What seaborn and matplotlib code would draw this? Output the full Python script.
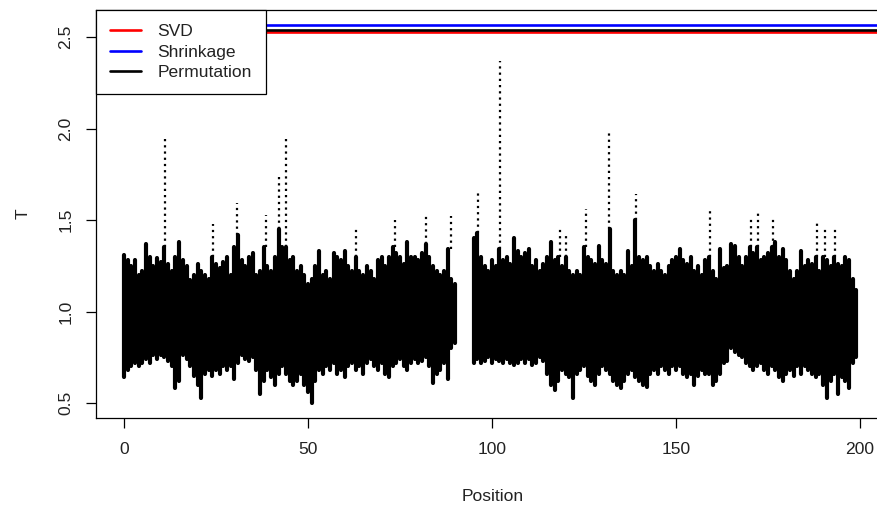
import numpy as np
import pandas as pd
import matplotlib
matplotlib.use("Agg")
import matplotlib.pyplot as plt
import seaborn as sns

# ---------------- data ----------------
pos_left = list(range(0, 91))
pos_right = list(range(95, 200))

hi_left = [1.31, 1.28, 1.25, 1.28, 1.20, 1.22, 1.37, 1.30, 1.25, 1.29,
           1.27, 1.35, 1.26, 1.22, 1.30, 1.38, 1.28, 1.25, 1.17, 1.20,
           1.26, 1.22, 1.20, 1.18, 1.30, 1.26, 1.24, 1.27, 1.30, 1.20,
           1.35, 1.42, 1.28, 1.25, 1.30, 1.32, 1.20, 1.22, 1.35, 1.25,
           1.22, 1.30, 1.45, 1.35, 1.35, 1.28, 1.30, 1.22, 1.25, 1.20,
           1.15, 1.18, 1.25, 1.33, 1.20, 1.22, 1.18, 1.32, 1.30, 1.28,
           1.33, 1.25, 1.22, 1.30, 1.22, 1.20, 1.25, 1.22, 1.18, 1.28,
           1.30, 1.25, 1.30, 1.35, 1.32, 1.30, 1.26, 1.38, 1.30, 1.30,
           1.28, 1.32, 1.37, 1.30, 1.25, 1.22, 1.20, 1.22, 1.34, 1.18,
           1.15]
lo_left = [0.64, 0.68, 0.70, 0.72, 0.70, 0.72, 0.74, 0.72, 0.76, 0.74,
           0.76, 0.75, 0.73, 0.70, 0.58, 0.62, 0.76, 0.74, 0.70, 0.65,
           0.60, 0.53, 0.66, 0.68, 0.65, 0.68, 0.66, 0.70, 0.68, 0.70,
           0.63, 0.72, 0.76, 0.74, 0.73, 0.75, 0.68, 0.55, 0.62, 0.68,
           0.64, 0.60, 0.66, 0.70, 0.66, 0.62, 0.60, 0.62, 0.66, 0.60,
           0.56, 0.50, 0.62, 0.68, 0.66, 0.70, 0.68, 0.72, 0.66, 0.68,
           0.64, 0.70, 0.72, 0.68, 0.70, 0.66, 0.72, 0.74, 0.70, 0.68,
           0.72, 0.66, 0.64, 0.70, 0.72, 0.74, 0.70, 0.68, 0.72, 0.74,
           0.72, 0.73, 0.75, 0.70, 0.61, 0.66, 0.68, 0.72, 0.63, 0.80,
           0.83]
hi_right = [1.40, 1.43, 1.30, 1.25, 1.22, 1.28, 1.25, 1.34, 1.28, 1.30,
            1.26, 1.40, 1.33, 1.30, 1.32, 1.34, 1.25, 1.28, 1.22, 1.26,
            1.30, 1.38, 1.28, 1.30, 1.25, 1.30, 1.22, 1.20, 1.22, 1.20,
            1.35, 1.30, 1.28, 1.26, 1.36, 1.28, 1.26, 1.45, 1.22, 1.20,
            1.22, 1.20, 1.33, 1.25, 1.50, 1.30, 1.28, 1.30, 1.25, 1.22,
            1.26, 1.22, 1.20, 1.25, 1.28, 1.30, 1.34, 1.28, 1.26, 1.30,
            1.22, 1.25, 1.20, 1.28, 1.30, 1.22, 1.18, 1.34, 1.24, 1.25,
            1.37, 1.36, 1.30, 1.25, 1.30, 1.35, 1.32, 1.35, 1.28, 1.30,
            1.32, 1.35, 1.38, 1.30, 1.34, 1.28, 1.22, 1.18, 1.22, 1.33,
            1.25, 1.28, 1.26, 1.30, 1.22, 1.30, 1.28, 1.25, 1.30, 1.26,
            1.25, 1.30, 1.28, 1.18, 1.12]
lo_right = [0.72, 0.74, 0.72, 0.73, 0.75, 0.72, 0.74, 0.73, 0.72, 0.74,
            0.72, 0.71, 0.72, 0.74, 0.72, 0.74, 0.71, 0.72, 0.75, 0.73,
            0.66, 0.60, 0.57, 0.62, 0.68, 0.66, 0.64, 0.53, 0.66, 0.68,
            0.70, 0.65, 0.62, 0.60, 0.66, 0.70, 0.68, 0.66, 0.62, 0.60,
            0.58, 0.62, 0.66, 0.68, 0.64, 0.62, 0.60, 0.59, 0.66, 0.68,
            0.66, 0.70, 0.68, 0.66, 0.70, 0.68, 0.70, 0.66, 0.64, 0.66,
            0.60, 0.65, 0.68, 0.66, 0.66, 0.60, 0.62, 0.66, 0.72, 0.73,
            0.80, 0.78, 0.76, 0.75, 0.72, 0.70, 0.68, 0.70, 0.72, 0.68,
            0.66, 0.70, 0.68, 0.64, 0.62, 0.66, 0.68, 0.65, 0.70, 0.66,
            0.70, 0.68, 0.66, 0.64, 0.66, 0.60, 0.53, 0.62, 0.66, 0.55,
            0.64, 0.62, 0.58, 0.72, 0.75]

spike_pos = [11.1, 24.2, 30.8, 38.6, 42.2, 44.0, 63.0, 73.7, 82.0, 88.8,
             96.3, 102.1, 118.6, 120.1, 125.5, 131.9, 139.1, 159.3, 170.5,
             172.3, 176.4, 188.2, 190.5, 193.2]
spike_base = [1.35, 1.30, 1.42, 1.35, 1.45, 1.35, 1.30, 1.35, 1.37, 1.34,
              1.43, 1.34, 1.30, 1.30, 1.35, 1.45, 1.50, 1.30, 1.35,
              1.35, 1.35, 1.30, 1.30, 1.30]
spike_top = [1.965, 1.48, 1.594, 1.53, 1.75, 1.95, 1.46, 1.50, 1.52, 1.52,
             1.66, 2.37, 1.45, 1.42, 1.56, 1.98, 1.64, 1.56, 1.51,
             1.54, 1.52, 1.49, 1.47, 1.47]

thr_names = ["SVD", "Shrinkage", "Permutation"]
thr_values = [2.529, 2.564, 2.541]
thr_colors = ["#FF0000", "#0000FF", "#000000"]

x_ticks = [0, 50, 100, 150, 200]
y_ticks = [0.5, 1.0, 1.5, 2.0, 2.5]

# ---------------- style ----------------
sns.set_style("white")
plt.rcParams["font.family"] = ["Liberation Sans", "DejaVu Sans"]
FS = 12.6

W, H = 878, 505
fig = plt.figure(figsize=(W / 100, H / 100), dpi=100)
ax = fig.add_axes([96 / W, 1 - 418 / H, 793.4 / W, 408 / H])

pos_all = pos_left + pos_right
lo_all = lo_left + lo_right
hi_all = hi_left + hi_right
bars = pd.DataFrame({"Position": pos_all * 2, "T": lo_all + hi_all,
                     "unit": pos_all * 2})
sns.lineplot(data=bars, x="Position", y="T", units="unit", estimator=None,
             color="black", linewidth=3.0, legend=False, ax=ax)

spk = pd.DataFrame({"Position": spike_pos * 2, "T": spike_base + spike_top,
                    "unit": list(range(len(spike_pos))) * 2})
sns.lineplot(data=spk, x="Position", y="T", units="unit", estimator=None,
             color="black", linewidth=1.6, linestyle=(0, (1, 1.8)),
             legend=False, ax=ax)

handles = []
for name, val, col in zip(thr_names, thr_values, thr_colors):
    h = ax.axhline(val, color=col, linewidth=1.9, label=name)
    handles.append(h)

ax.set_xlim(-7.6, 208)
ax.set_ylim(0.418, 2.648)
ax.set_xticks(x_ticks)
ax.set_xticklabels([str(v) for v in x_ticks])
ax.set_yticks(y_ticks)
ax.set_yticklabels([f"{v:.1f}" for v in y_ticks])

for s in ax.spines.values():
    s.set_color("black")
    s.set_linewidth(0.9)
    s.set_visible(True)

ax.tick_params(axis="both", which="major", direction="out", length=7.3,
               width=0.9, color="black", labelsize=FS, labelcolor="#222222",
               bottom=True, left=True, top=False, right=False)
ax.tick_params(axis="x", pad=10)
ax.tick_params(axis="y", pad=9, labelrotation=90)
for lab in ax.get_yticklabels():
    lab.set_va("center")

ax.set_xlabel("Position", fontsize=FS, color="#222222", labelpad=23)
ax.set_ylabel("T", fontsize=FS, color="#222222", labelpad=20)

leg = ax.legend(handles=handles, labels=thr_names, loc="upper left",
                bbox_to_anchor=(0, 1), borderaxespad=0, fontsize=FS,
                frameon=True, fancybox=False, framealpha=1,
                handlelength=1.75, handletextpad=0.95, borderpad=0.8,
                labelspacing=0.3)
leg.get_frame().set_edgecolor("black")
leg.get_frame().set_linewidth(0.9)
for t in leg.get_texts():
    t.set_color("#222222")

fig.savefig("out.png", dpi=100)
